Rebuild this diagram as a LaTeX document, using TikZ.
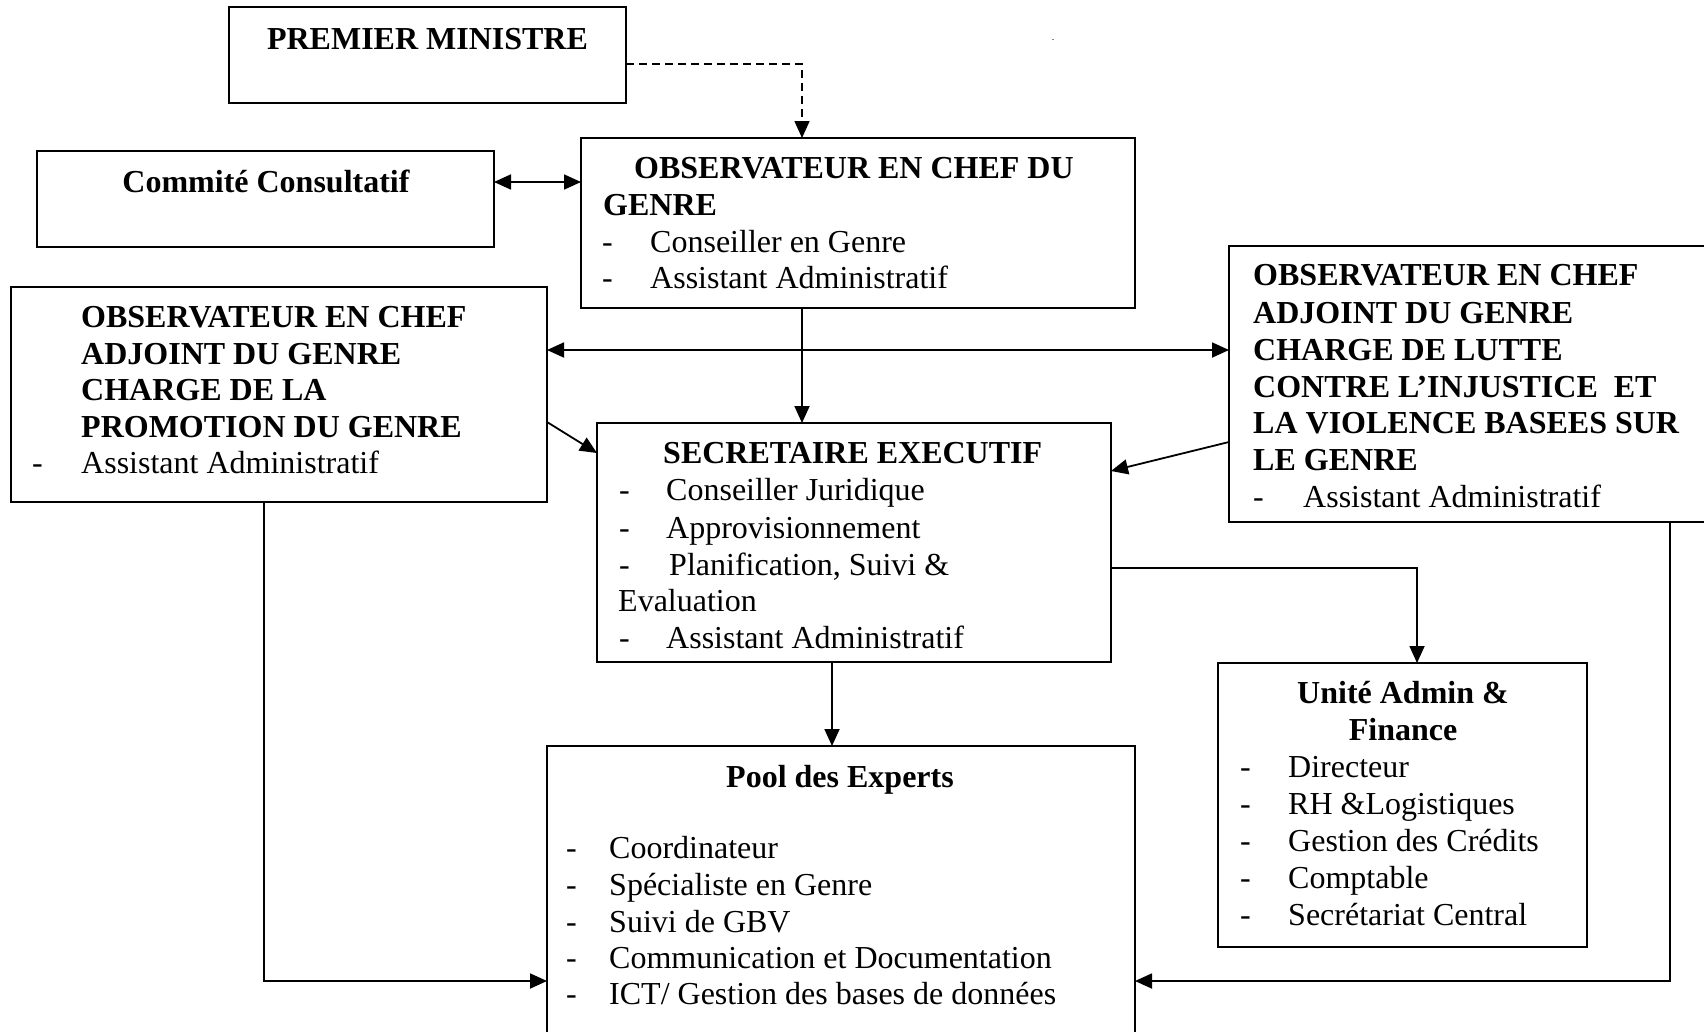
\documentclass[tikz,border=0pt]{standalone}
\usepackage{fontspec}
\setmainfont{Liberation Serif}
\usetikzlibrary{arrows.meta}
\begin{document}
\begin{tikzpicture}[x=1pt,y=-1pt,
  box/.style={draw,line width=1.6pt,inner sep=0pt,outer sep=0pt,anchor=north west},
  txt/.style={inner sep=0pt,anchor=base west,font=\fontsize{32}{37}\selectfont},
  btxt/.style={inner sep=0pt,anchor=base west,font=\fontsize{32}{37}\selectfont\bfseries},
  ctr/.style={anchor=base},
  conn/.style={line width=1.8pt,-{Triangle[length=17pt,width=15pt]}},
  biconn/.style={line width=1.8pt,{Triangle[length=17pt,width=15pt]}-{Triangle[length=17pt,width=15pt]}},
  dconn/.style={line width=1.5pt,dash pattern=on 8pt off 5pt,-{Triangle[length=17pt,width=15pt]}}]
\fill[white,use as bounding box] (0,0) rectangle (1704,1031);
\clip (0,0) rectangle (1704,1031);

% boxes
\node[box,minimum width=397pt,minimum height=96pt] (pm) at (229,7) {};
\node[box,minimum width=457pt,minimum height=96pt] (cc) at (37,151) {};
\node[box,minimum width=554pt,minimum height=170pt] (ocg) at (581,138) {};
\node[box,minimum width=536pt,minimum height=215pt] (loag) at (11,287) {};
\node[box,minimum width=491pt,minimum height=276pt] (roag) at (1229,246) {};
\node[box,minimum width=514pt,minimum height=239pt] (se) at (597,423) {};
\node[box,minimum width=369pt,minimum height=284pt] (af) at (1218,663) {};
\node[box,minimum width=588pt,minimum height=304pt] (pool) at (547,746) {};

% texts
\node[btxt,ctr] (pmt) at (427.5,49) {PREMIER MINISTRE};
\node[inner sep=0pt,anchor=base,font=\fontsize{10}{12}\selectfont] (dot) at (1053,40) {.};
\node[btxt,ctr] (cct) at (266,192) {Commité Consultatif};

\node[btxt] (ocg1) at (634,178) {OBSERVATEUR EN CHEF DU};
\node[btxt] (ocg2) at (603,215) {GENRE};
\node[txt] (ocgd1) at (602,252) {-};
\node[txt] (ocg3) at (650,252) {Conseiller en Genre};
\node[txt] (ocgd2) at (602,288) {-};
\node[txt] (ocg4) at (650,288) {Assistant Administratif};

\node[btxt] (lo1) at (81,327) {OBSERVATEUR EN CHEF};
\node[btxt] (lo2) at (81,364) {ADJOINT DU GENRE};
\node[btxt] (lo3) at (81,400) {CHARGE DE LA};
\node[btxt] (lo4) at (81,437) {PROMOTION DU GENRE};
\node[txt] (lod) at (32,473) {-};
\node[txt] (lo5) at (81,473) {Assistant Administratif};

\node[btxt] (ro1) at (1253,285) {OBSERVATEUR EN CHEF};
\node[btxt] (ro2) at (1253,323) {ADJOINT DU GENRE};
\node[btxt] (ro3) at (1253,360) {CHARGE DE LUTTE};
\node[btxt] (ro4) at (1253,397) {CONTRE L’INJUSTICE\ \ ET};
\node[btxt] (ro5) at (1253,433) {LA VIOLENCE BASEES SUR};
\node[btxt] (ro6) at (1253,470) {LE GENRE};
\node[txt] (rod) at (1253,507) {-};
\node[txt] (ro7) at (1303,507) {Assistant Administratif};

\node[btxt] (se0) at (663,463) {SECRETAIRE EXECUTIF};
\node[txt] (sed1) at (619,500) {-};
\node[txt] (se1) at (666,500) {Conseiller Juridique};
\node[txt] (sed2) at (619,538) {-};
\node[txt] (se2) at (666,538) {Approvisionnement};
\node[txt] (sed3) at (619,575) {-};
\node[txt] (se3) at (669,575) {Planification, Suivi \&};
\node[txt] (se4) at (618,611) {Evaluation};
\node[txt] (sed5) at (619,648) {-};
\node[txt] (se5) at (666,648) {Assistant Administratif};

\node[btxt,ctr] (af1) at (1403,703) {Unité Admin \&};
\node[btxt,ctr] (af2) at (1403,740) {Finance};
\node[txt] (afd1) at (1240,777) {-};
\node[txt] (afi1) at (1288,777) {Directeur};
\node[txt] (afd2) at (1240,814) {-};
\node[txt] (afi2) at (1288,814) {RH \&Logistiques};
\node[txt] (afd3) at (1240,851) {-};
\node[txt] (afi3) at (1288,851) {Gestion des Crédits};
\node[txt] (afd4) at (1240,888) {-};
\node[txt] (afi4) at (1288,888) {Comptable};
\node[txt] (afd5) at (1240,925) {-};
\node[txt] (afi5) at (1288,925) {Secrétariat Central};

\node[btxt,ctr] (po0) at (840,787) {Pool des Experts};
\node[txt] (pod1) at (566,858) {-};
\node[txt] (po1) at (609,858) {Coordinateur};
\node[txt] (pod2) at (566,895) {-};
\node[txt] (po2) at (609,895) {Spécialiste en Genre};
\node[txt] (pod3) at (566,932) {-};
\node[txt] (po3) at (609,932) {Suivi de GBV};
\node[txt] (pod4) at (566,968) {-};
\node[txt] (po4) at (609,968) {Communication et Documentation};
\node[txt] (pod5) at (566,1004) {-};
\node[txt] (po5) at (609,1004) {ICT/ Gestion des bases de données};

% connectors
\draw[dconn] ([yshift=-9pt]pm.east) -| ([xshift=-56pt]ocg.north);
\draw[biconn] ([yshift=17pt]cc.east) -- ([yshift=17pt]cc.east -| ocg.west);
\draw[conn] ([xshift=-56pt]ocg.south) -- ([xshift=-56pt]ocg.south |- se.north);
\draw[biconn] ([yshift=44.5pt]loag.east) -- ([yshift=44.5pt]loag.east -| roag.west);
\draw[conn] ([yshift=-27.5pt]loag.east) -- ([yshift=89.5pt]se.west);
\draw[conn] ([yshift=-58pt]roag.west) -- ([yshift=71.5pt]se.east);
\draw[conn] ([yshift=-25.5pt]se.east) -| ([xshift=14.5pt]af.north);
\draw[conn] ([xshift=-22pt]se.south) -- ([xshift=-22pt]se.south |- pool.north);
\draw[conn] ([xshift=-15pt]loag.south) |- ([yshift=-83pt]pool.west);
\draw[conn] ([xshift=195.5pt]roag.south) |- ([yshift=-83pt]pool.east);
\end{tikzpicture}
\end{document}
